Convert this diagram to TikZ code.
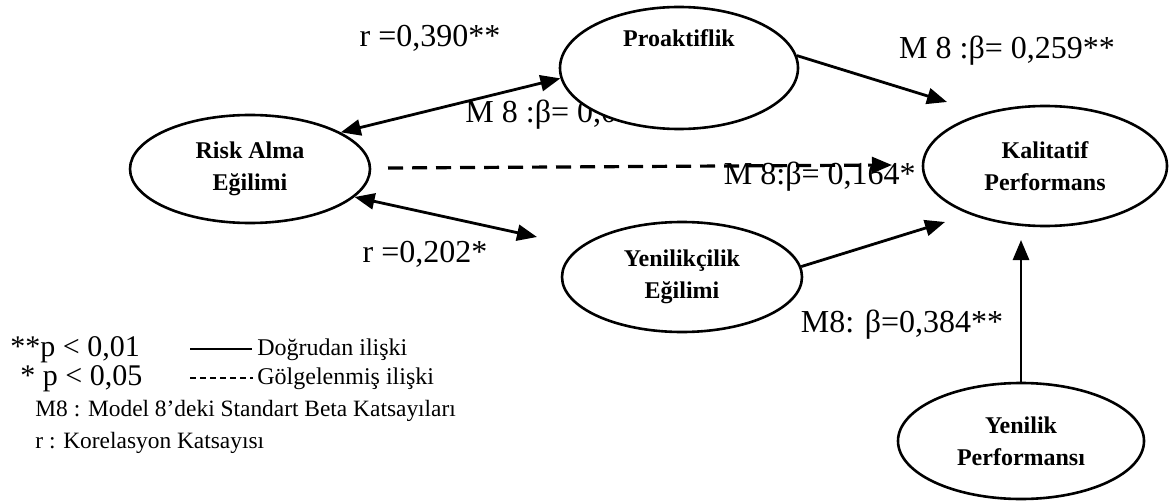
\documentclass[tikz,border=0pt]{standalone}
\usepackage{fontspec}
\setmainfont{Liberation Serif}
\usetikzlibrary{shapes.geometric,arrows.meta}
\begin{document}
\begin{tikzpicture}[x=0.5pt,y=-0.5pt,
  construct/.style={ellipse,draw,line width=1.3pt,fill=white,inner sep=0pt,align=center,
    font=\bfseries\fontsize{12}{16}\selectfont},
  coef/.style={inner sep=0pt,font=\fontsize{16}{18}\selectfont},
  key/.style={inner sep=0pt,font=\fontsize{15}{17}\selectfont},
  keytext/.style={inner sep=0pt,font=\fontsize{12}{14}\selectfont},
  note/.style={inner sep=0pt,font=\fontsize{11.7}{13}\selectfont},
  tip/.tip={Triangle[length=10pt,width=8pt]},
  link/.style={line width=1.4pt,-tip},
  corr/.style={line width=1.4pt,tip-tip},
  shadowed/.style={line width=1.6pt,dash pattern=on 7.5pt off 4.5pt,-tip}]
\useasboundingbox (0,0) rectangle (1176,502);

% coefficient partly hidden behind the Proaktiflik ellipse
\node[coef,anchor=west] (mpart) at (465,115) {M 8 :β= 0,0};

% constructs
\node[construct,minimum width=120pt,minimum height=54pt] (risk) at (250,169) {Risk Alma\\Eğilimi};
\node[construct,minimum width=119pt,minimum height=61pt] (pro) at (679,68) {Proaktiflik\\[14pt]};
\node[construct,minimum width=122pt,minimum height=60pt] (kal) at (1045,166) {Kalitatif\\Performans};
\node[construct,minimum width=120pt,minimum height=55pt] (yen) at (682,277) {Yenilikçilik\\Eğilimi};
\node[construct,minimum width=123pt,minimum height=58pt] (yp) at (1021,441) {Yenilik\\Performansı};

% free ends of connectors
\coordinate (yenTip) at (537,237);
\coordinate (dStart) at (388,168);
\coordinate (dEnd) at (892,165);
\coordinate (proTip) at (947,102);
\coordinate (yenKal) at (945,222);
\coordinate (ypTip) at (1021,240);

% connectors
\draw[corr] (risk.22) -- (pro.185);
\draw[corr] (risk.-15) -- (yenTip);
\draw[shadowed] (dStart) -- (dEnd);
\draw[link] (pro.6) -- (proTip);
\draw[link] (yen.5) -- (yenKal);
\draw[link] (yp.north) -- (ypTip);

% coefficients
\node[coef] (r1) at (430,38) {r =0,390**};
\node[coef] (m259) at (1007,51) {M 8 :β= 0,259**};
\node[coef,anchor=east] (m164) at (916,177) {M 8:β= 0,164*};
\node[coef] (r2) at (425,254) {r =0,202*};
\node[coef] (m384) at (902,325) {M8: β=0,384**};

% key
\node[key,anchor=base west] (p1) at (10,356) {**p < 0,01};
\node[key,anchor=base west] (p2) at (20,385) {* p < 0,05};
\coordinate (k1a) at (190,349);
\coordinate (k1b) at (252,349);
\coordinate (k2a) at (190,378);
\coordinate (k2b) at (253,378);
\draw[line width=0.7pt] (k1a) -- (k1b);
\draw[line width=0.6pt,dash pattern=on 3pt off 2pt] (k2a) -- (k2b);
\node[keytext,anchor=base west] (t1) at (257,355) {Doğrudan ilişki};
\node[keytext,anchor=base west] (t2) at (257,384) {Gölgelenmiş ilişki};
\node[note,anchor=base west] (n1) at (35,416) {M8 : Model 8’deki Standart Beta Katsayıları};
\node[note,anchor=base west] (n2) at (35,448) {r : Korelasyon Katsayısı};
\end{tikzpicture}
\end{document}
